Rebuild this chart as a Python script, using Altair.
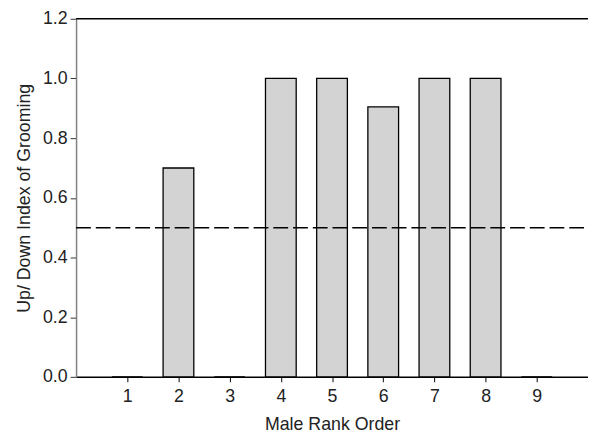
import altair as alt
import pandas as pd

# ---- data ----
ranks = [1, 2, 3, 4, 5, 6, 7, 8, 9]
index_values = [0.0, 0.70, 0.0, 1.0, 1.0, 0.905, 1.0, 1.0, 0.0]
x_ticks = [1, 2, 3, 4, 5, 6, 7, 8, 9]
y_ticks = [0.0, 0.2, 0.4, 0.6, 0.8, 1.0, 1.2]
reference_level = [0.5]
x_domain = [0, 10]
y_domain = [0, 1.2]
bar_half_width = 0.3

FONT = "Liberation Sans"

bars_df = pd.DataFrame({"rank": ranks, "value": index_values})
bars_df["x0"] = bars_df["rank"] - bar_half_width
bars_df["x1"] = bars_df["rank"] + bar_half_width
bars_df["base"] = 0.0

ref_df = pd.DataFrame({"x0": [x_domain[0]], "x1": [x_domain[1]], "y": reference_level})
top_df = pd.DataFrame({"x0": [x_domain[0]], "x1": [x_domain[1]], "y": [y_domain[1]]})

xscale = alt.Scale(domain=x_domain, nice=False, zero=False)
yscale = alt.Scale(domain=y_domain, nice=False)

x_axis = alt.Axis(
    values=x_ticks, format="d", title="Male Rank Order", grid=False,
    domainColor="#000000", domainWidth=1.5, tickColor="#000000", tickSize=5,
    labelFont=FONT, labelFontSize=18, labelColor="#222222", labelPadding=6,
    labelFlush=False, titleFont=FONT, titleFontSize=18, titleFontWeight="normal",
    titleColor="#222222", titlePadding=10,
)
y_axis = alt.Axis(
    values=y_ticks, format=".1f", title="Up/ Down Index of Grooming", grid=False,
    domainColor="#808080", domainWidth=1.5, tickColor="#333333", tickSize=6,
    labelFont=FONT, labelFontSize=18, labelColor="#222222", labelPadding=3,
    labelFlush=False, titleFont=FONT, titleFontSize=18, titleFontWeight="normal",
    titleColor="#222222", titlePadding=9,
)

bars = alt.Chart(bars_df).mark_rect(
    fill="#d3d3d3", stroke="#000000", strokeWidth=1.3
).encode(
    x=alt.X("x0:Q", scale=xscale, axis=x_axis),
    x2="x1:Q",
    y=alt.Y("value:Q", scale=yscale, axis=y_axis),
    y2="base:Q",
)

ref_line = alt.Chart(ref_df).mark_rule(
    color="#000000", strokeWidth=1.5, strokeDash=[15, 5]
).encode(
    x=alt.X("x0:Q", scale=xscale),
    x2="x1:Q",
    y=alt.Y("y:Q", scale=yscale),
)

top_line = alt.Chart(top_df).mark_rule(
    color="#000000", strokeWidth=1.5
).encode(
    x=alt.X("x0:Q", scale=xscale),
    x2="x1:Q",
    y=alt.Y("y:Q", scale=yscale),
)

chart = alt.layer(bars, ref_line, top_line).properties(
    width=519,
    height=363,
    padding={"left": 69, "top": 8, "right": 0, "bottom": 56},
    autosize=alt.AutoSizeParams(type="none"),
    background="white",
).configure_view(stroke=None)

chart.save("out.html", embed_options={"renderer": "svg", "actions": False})
